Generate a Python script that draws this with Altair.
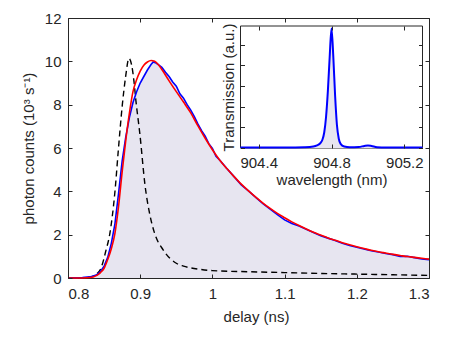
import altair as alt
import pandas as pd

# ---------------- data ----------------
# measured decay (blue)
blue_t = [0.80, 0.81, 0.82, 0.83, 0.835, 0.84, 0.845, 0.85, 0.855, 0.86, 0.865, 0.87, 0.875,
          0.88, 0.885, 0.89, 0.895, 0.90, 0.905, 0.91, 0.915, 0.918, 0.922, 0.925, 0.93, 0.935,
          0.94, 0.945, 0.95, 0.955, 0.96, 0.965, 0.97, 0.975, 0.98, 0.985, 0.99, 0.995, 1.00,
          1.005, 1.01, 1.02, 1.03, 1.04, 1.05, 1.06, 1.07, 1.08, 1.09, 1.10, 1.11, 1.12, 1.13,
          1.14, 1.15, 1.16, 1.17, 1.18, 1.19, 1.20, 1.21, 1.22, 1.23, 1.24, 1.25, 1.26, 1.27,
          1.28, 1.29, 1.30]
blue_y = [0.0, 0.01, 0.02, 0.05, 0.09, 0.15, 0.3, 0.55, 0.95, 1.6, 2.5, 3.9, 5.4,
          6.5, 7.4, 8.1, 8.6, 9.0, 9.3, 9.6, 9.85, 9.97, 9.92, 9.85, 9.72, 9.5,
          9.3, 9.05, 8.85, 8.5, 8.3, 8.0, 7.75, 7.45, 7.1, 6.8, 6.55, 6.2, 5.98,
          5.62, 5.45, 5.05, 4.68, 4.3, 4.02, 3.72, 3.43, 3.18, 2.93, 2.68, 2.52, 2.4, 2.25,
          2.1, 1.95, 1.84, 1.73, 1.6, 1.5, 1.42, 1.34, 1.26, 1.2, 1.13, 1.08, 1.0, 1.0,
          0.94, 0.88, 0.85]

# fit (red)
red_t = [0.80, 0.81, 0.82, 0.83, 0.835, 0.84, 0.845, 0.85, 0.855, 0.86, 0.865, 0.87, 0.875,
         0.88, 0.885, 0.89, 0.895, 0.90, 0.905, 0.91, 0.915, 0.92, 0.925, 0.93, 0.94,
         0.95, 0.96, 0.97, 0.98, 0.99, 1.00, 1.01, 1.02, 1.03, 1.04, 1.05, 1.06, 1.07, 1.08,
         1.09, 1.10, 1.11, 1.12, 1.13, 1.14, 1.15, 1.16, 1.17, 1.18, 1.19, 1.20, 1.21, 1.22,
         1.23, 1.24, 1.25, 1.26, 1.27, 1.28, 1.29, 1.30]
red_y = [0.0, 0.0, 0.0, 0.02, 0.05, 0.12, 0.25, 0.45, 0.85, 1.35, 2.06, 3.3, 4.9,
         6.35, 7.6, 8.6, 9.15, 9.55, 9.82, 9.97, 10.04, 10.0, 9.85, 9.62, 9.1,
         8.6, 8.12, 7.62, 7.02, 6.45, 5.92, 5.45, 5.05, 4.68, 4.33, 4.02, 3.73, 3.46, 3.21,
         2.98, 2.78, 2.59, 2.42, 2.26, 2.11, 1.98, 1.85, 1.74, 1.63, 1.53, 1.44, 1.36, 1.28,
         1.21, 1.15, 1.09, 1.04, 0.99, 0.95, 0.91, 0.87]

# instrument response (black dashed)
irf_t = [0.80, 0.82, 0.83, 0.84, 0.845, 0.848, 0.852, 0.858, 0.865, 0.8697, 0.8752, 0.8798,
         0.8844, 0.888, 0.8913, 0.894, 0.8997, 0.9066, 0.9135, 0.92, 0.932, 0.95, 0.96, 0.983,
         1.00, 1.05, 1.10, 1.15, 1.20, 1.25, 1.30]
irf_y = [0.0, 0.01, 0.04, 0.2, 0.4, 0.68, 1.2, 2.06, 3.98, 5.9, 7.98, 9.29,
         10.14, 9.85, 9.1, 8.2, 6.6, 4.3, 2.9, 2.06, 1.29, 0.68, 0.55, 0.4,
         0.34, 0.29, 0.25, 0.21, 0.18, 0.15, 0.12]

# inset: filter transmission spectrum
wl = [904.30, 904.40, 904.50, 904.60, 904.65, 904.70, 904.72, 904.74, 904.75, 904.76, 904.77,
      904.78, 904.79, 904.80, 904.81, 904.82, 904.83, 904.84, 904.85, 904.87, 904.90, 904.95,
      904.98, 905.00, 905.02, 905.05, 905.10, 905.20, 905.30]
trans = [0.005, 0.005, 0.005, 0.006, 0.008, 0.015, 0.025, 0.05, 0.08, 0.15, 0.3,
         0.55, 0.88, 1.155, 0.88, 0.5, 0.22, 0.09, 0.04, 0.015, 0.008, 0.01,
         0.02, 0.025, 0.02, 0.008, 0.005, 0.005, 0.005]

x_ticks = [0.8, 0.9, 1.0, 1.1, 1.2, 1.3]
y_ticks = [0, 2, 4, 6, 8, 10, 12]
x_lim = [0.8, 1.3]
y_lim = [0, 12]
in_x_ticks = [904.4, 904.8, 905.2]
in_y_ticks = [0, 0.2, 0.4, 0.6, 0.8, 1.0]
in_x_lim = [904.3, 905.3]
in_y_lim = [0, 1.18]

# ---------------- layout / style ----------------
W, H = 361, 260
IN_X0, IN_X1 = 172.5, 354.5   # inset box in plot pixels
IN_Y0, IN_Y1 = 8, 130
FONT = "Liberation Sans"
TXT = "#262626"
FS = 15
TICK = 4

blue_df = pd.DataFrame({"t": blue_t, "v": blue_y})
red_df = pd.DataFrame({"t": red_t, "v": red_y})
irf_df = pd.DataFrame({"t": irf_t, "v": irf_y})
inset_df = pd.DataFrame({"wl": wl, "tr": trans})
frame_df = pd.DataFrame({"x0": [in_x_lim[0]], "x1": [in_x_lim[1]],
                         "y0": [in_y_lim[0]], "y1": [in_y_lim[1]]})

xs = alt.Scale(domain=x_lim, nice=False, zero=False)
ys = alt.Scale(domain=y_lim, nice=False)
ixs = alt.Scale(domain=in_x_lim, nice=False, zero=False, range=[IN_X0, IN_X1])
iys = alt.Scale(domain=in_y_lim, nice=False, range=[IN_Y1, IN_Y0])

common = dict(grid=False, domain=False, labelFont=FONT, labelFontSize=FS, labelColor=TXT,
              titleFont=FONT, titleFontSize=FS, titleColor=TXT, titleFontWeight="normal",
              tickColor=TXT, tickWidth=1)


def tick_axis(orient, offset, values):
    return alt.Axis(orient=orient, offset=offset, values=values, labels=False, ticks=True,
                    tickSize=TICK, title=None, zindex=2, **common)


ax_x_lab = alt.Axis(orient="bottom", values=x_ticks, ticks=False, labelPadding=8,
                    labelExpr="format(datum.value, '.1~f')", title="delay (ns)",
                    titleX=188, titleY=38, titleBaseline="middle", **common)
ax_y_lab = alt.Axis(orient="left", values=y_ticks, ticks=False, labelPadding=7,
                    title="photon counts (10³ s⁻¹)", titleX=-40, titleY=130,
                    titleBaseline="middle", titleAngle=270, **common)

area = alt.Chart(blue_df).mark_area(color="#e7e5f0", opacity=1).encode(
    x=alt.X("t:Q", scale=xs, axis=ax_x_lab),
    y=alt.Y("v:Q", scale=ys, axis=ax_y_lab))
dashed = alt.Chart(irf_df).mark_line(color="black", strokeWidth=1.4, strokeDash=[6, 4],
                                     interpolate="monotone").encode(
    x=alt.X("t:Q", scale=xs, axis=tick_axis("top", -H, x_ticks)),
    y=alt.Y("v:Q", scale=ys, axis=tick_axis("right", -W, y_ticks)))
blue = alt.Chart(blue_df).mark_line(color="#0000ff", strokeWidth=1.6).encode(
    x=alt.X("t:Q", scale=xs, axis=tick_axis("bottom", -H, x_ticks)),
    y=alt.Y("v:Q", scale=ys, axis=tick_axis("left", -W, y_ticks)))
red = alt.Chart(red_df).mark_line(color="#ff0000", strokeWidth=1.6,
                                  interpolate="monotone").encode(
    x=alt.X("t:Q", scale=xs, axis=None),
    y=alt.Y("v:Q", scale=ys, axis=None))

main = alt.layer(area, dashed, blue, red).resolve_axis(x="independent", y="independent")

# inset
in_ax_x_lab = alt.Axis(orient="bottom", offset=IN_Y1 - H, values=in_x_ticks, ticks=False,
                       labelPadding=7, format=".1f", title="wavelength (nm)",
                       titleX=(IN_X0 + IN_X1) / 2, titleY=31, titleBaseline="middle",
                       zindex=2, **common)
in_ax_y_lab = alt.Axis(orient="left", offset=-IN_X0, values=in_y_ticks, labels=False,
                       ticks=False, title="Transmission (a.u.)", titleX=-12,
                       titleY=(IN_Y0 + IN_Y1) / 2, titleBaseline="middle", titleAngle=270,
                       zindex=2, **common)

frame = alt.Chart(frame_df).mark_rect(fill="white", stroke=TXT, strokeWidth=1).encode(
    x=alt.X("x0:Q", scale=ixs, axis=in_ax_x_lab), x2="x1:Q",
    y=alt.Y("y0:Q", scale=iys, axis=in_ax_y_lab), y2="y1:Q")
in_area = alt.Chart(inset_df).mark_area(color="#e7e5f0", opacity=1,
                                        interpolate="monotone").encode(
    x=alt.X("wl:Q", scale=ixs, axis=tick_axis("top", IN_Y1 - H, in_x_ticks)),
    y=alt.Y("tr:Q", scale=iys, axis=tick_axis("right", IN_X0 - W, in_y_ticks)))
in_line = alt.Chart(inset_df).mark_line(color="#0000ff", strokeWidth=2,
                                        interpolate="monotone").encode(
    x=alt.X("wl:Q", scale=ixs, axis=tick_axis("bottom", IN_Y0 - H, in_x_ticks)),
    y=alt.Y("tr:Q", scale=iys, axis=tick_axis("left", -IN_X1, in_y_ticks)))

inset = alt.layer(frame, in_area, in_line).resolve_axis(x="independent", y="independent")

chart = alt.layer(main, inset).resolve_scale(
    x="independent", y="independent").resolve_axis(
    x="independent", y="independent").properties(
    width=W, height=H, autosize=alt.AutoSizeParams(type="none"),
    padding={"left": 60, "top": 10, "right": 31, "bottom": 51}).configure_view(
    stroke=TXT, strokeWidth=1)

chart.save("out.html", embed_options={"renderer": "svg", "actions": False})
